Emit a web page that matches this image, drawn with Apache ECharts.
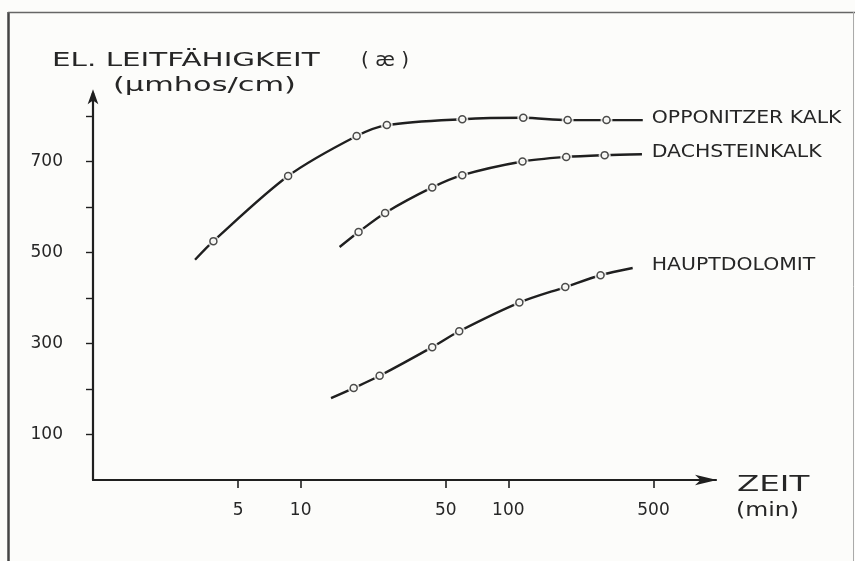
<!DOCTYPE html>
<html>
<head>
<meta charset="utf-8">
<script src="https://cdn.jsdelivr.net/npm/echarts@6/dist/echarts.min.js"></script>
<style>
html,body{margin:0;padding:0;background:#fcfcfa;}
#chart{width:855px;height:561px;}
</style>
</head>
<body>
<div id="chart"></div>
<script>
// ---- data (time in min, conductivity in µmhos/cm) ----
const seriesNames = ['OPPONITZER KALK', 'DACHSTEINKALK', 'HAUPTDOLOMIT'];
const oppT   = [3.1, 3.8, 8.7, 18.6, 26, 60, 118, 193, 297, 444];
const oppV   = [484, 525, 668, 756, 780, 793, 796, 791, 791, 791];
const dachT  = [15.4, 19, 25.5, 43, 60, 117, 190, 291, 440];
const dachV  = [512, 545, 587, 643, 670, 700, 710, 714, 716];
const hauptT = [14, 18, 24, 43, 58, 113, 188, 278, 397];
const hauptV = [180, 202, 229, 292, 327, 390, 424, 450, 466];
const xTicks = [5, 10, 50, 100, 500];
const yTicks = [100, 200, 300, 400, 500, 600, 700, 800];
const yLabels = [100, 300, 500, 700];
const yTitle1a = 'EL. LEITFÄHIGKEIT';
const yTitle1b = '( æ )';
const yTitle2 = '(μmhos/cm)';
const xTitle1 = 'ZEIT';
const xTitle2 = '(min)';

const INK = '#1f1f1f';
const TXT = '#262626';
const BG = '#fcfcfa';
const FONT = '"DejaVu Sans", sans-serif';

const allT = [oppT, dachT, hauptT];
const allV = [oppV, dachV, hauptV];
const pairs = (ts, vs) => ts.map((t, i) => [t, vs[i]]);
const inner = arr => arr.slice(1, arr.length - 1);   // measured points (curve ends carry no marker)

const series = [];
allT.forEach((ts, k) => {
  const pts = pairs(ts, allV[k]);
  series.push({name: seriesNames[k], type: 'line', smooth: 0.3, data: pts, showSymbol: false,
    lineStyle: {color: INK, width: 2.4}, z: 3, silent: true});
  series.push({name: seriesNames[k] + ' gap', type: 'scatter', data: inner(pts), symbol: 'circle',
    symbolSize: 12, itemStyle: {color: BG, borderWidth: 0}, z: 4, silent: true});
  series.push({name: seriesNames[k] + ' pts', type: 'scatter', data: inner(pts), symbol: 'circle',
    symbolSize: 7, itemStyle: {color: BG, borderColor: INK, borderWidth: 1.5}, z: 5, silent: true});
});

const chart = echarts.init(document.getElementById('chart'), null, {renderer: 'canvas'});
chart.setOption({
  animation: false,
  backgroundColor: BG,
  grid: {left: 93, right: 139, top: 93.25, bottom: 81, containLabel: false},
  xAxis: {
    type: 'log', logBase: 10, min: 1, max: 1000,
    splitLine: {show: false},
    axisLine: {show: true, lineStyle: {color: INK, width: 2.2},
      symbol: ['none', 'arrow'], symbolSize: [8, 22], symbolOffset: [0, 1]},
    axisTick: {show: true, length: 8, lineStyle: {color: INK, width: 1.6}, customValues: xTicks},
    axisLabel: {show: true, customValues: xTicks, margin: 22, color: TXT, fontSize: 17, fontFamily: FONT,
      formatter: v => String(Math.round(v))},
    minorTick: {show: false}
  },
  yAxis: {
    type: 'value', min: 0, max: 850, interval: 100,
    splitLine: {show: false},
    axisLine: {show: true, lineStyle: {color: INK, width: 2.2},
      symbol: ['none', 'arrow'], symbolSize: [8, 15], symbolOffset: [0, 4]},
    axisTick: {show: true, length: 7, lineStyle: {color: INK, width: 1.4}, customValues: yTicks},
    axisLabel: {show: true, customValues: yLabels, margin: 30, color: TXT, fontSize: 17, fontFamily: FONT}
  },
  series: series
});

// curve names at the curve ends, axis titles, frame
const ends = allT.map((ts, k) => chart.convertToPixel({xAxisIndex: 0, yAxisIndex: 0},
  [ts[ts.length - 1], allV[k][allV[k].length - 1]]));
const labelX = Math.max.apply(null, ends.map(p => p[0])) + 9;
function txt(id, text, x, y, size, sx) {
  return {id: id, type: 'text', x: x, y: y, scaleX: sx, scaleY: 1, originX: 0, originY: 0, z: 10,
    style: {text: text, font: 'normal ' + size + 'px ' + FONT, fill: TXT,
      align: 'left', verticalAlign: 'middle', textAlign: 'left', textVerticalAlign: 'middle'}};
}
const g = [];
seriesNames.forEach((n, k) => g.push(txt('lab' + k, n, labelX, ends[k][1] - 2, 17, 1.2)));
g.push(txt('yt1a', yTitle1a, 52, 61, 20, 1.47));
g.push(txt('yt1b', yTitle1b, 361, 61, 20, 1.0));
g.push(txt('yt2', yTitle2, 113, 86, 19, 1.6));
g.push(txt('xt1', xTitle1, 737, 486, 21, 1.55));
g.push(txt('xt2', xTitle2, 736, 511, 20, 1.18));
g.push({id: 'fl', type: 'line', shape: {x1: 8.5, y1: 12, x2: 8.5, y2: 561}, style: {stroke: '#444', lineWidth: 2.5}});
g.push({id: 'ft', type: 'line', shape: {x1: 8, y1: 12.5, x2: 855, y2: 12.5}, style: {stroke: '#666', lineWidth: 1.5}});
g.push({id: 'fr', type: 'line', shape: {x1: 853.5, y1: 12, x2: 853.5, y2: 561}, style: {stroke: '#aaa', lineWidth: 1}});
chart.setOption({graphic: g});
</script>
</body>
</html>
